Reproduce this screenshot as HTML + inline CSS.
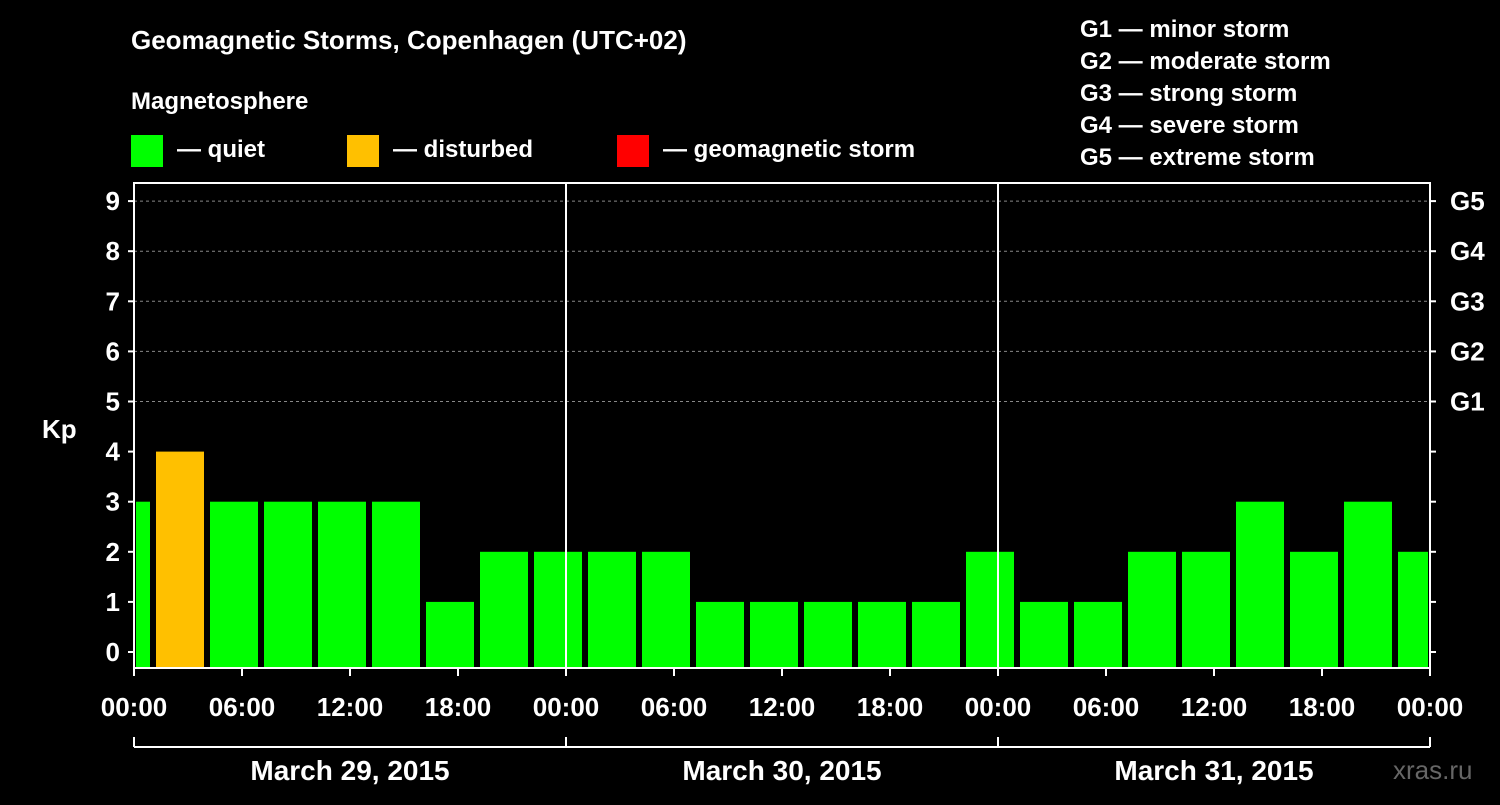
<!DOCTYPE html>
<html><head><meta charset="utf-8"><style>
body{margin:0;background:#000;width:1500px;height:800px;overflow:hidden;font-family:"Liberation Sans",Arial,sans-serif;}
</style></head><body>
<svg width="1500" height="800" xmlns="http://www.w3.org/2000/svg" font-family="Liberation Sans, Arial, sans-serif" font-weight="bold" fill="#fff">
<rect width="1500" height="800" fill="#000"/>
<text x="131" y="49" font-size="26" fill="#fff">Geomagnetic Storms, Copenhagen (UTC+02)</text>
<text x="131" y="109" font-size="24" fill="#fff">Magnetosphere</text>
<g><rect x="131" y="135" width="32" height="32" fill="#00ff00"/><text x="177" y="157" font-size="24" fill="#fff">— quiet</text></g>
<g><rect x="347" y="135" width="32" height="32" fill="#ffc000"/><text x="393" y="157" font-size="24" fill="#fff">— disturbed</text></g>
<g><rect x="617" y="135" width="32" height="32" fill="#ff0000"/><text x="663" y="157" font-size="24" fill="#fff">— geomagnetic storm</text></g>
<g font-size="24" fill="#fff">
<text x="1080" y="37">G1 — minor storm</text>
<text x="1080" y="69">G2 — moderate storm</text>
<text x="1080" y="101">G3 — strong storm</text>
<text x="1080" y="133">G4 — severe storm</text>
<text x="1080" y="165">G5 — extreme storm</text>
</g>
<text x="42" y="438" font-size="26" fill="#fff">Kp</text>
<g id="plot"></g>
<text x="1393" y="779" font-size="26" fill="#666" font-weight="normal">xras.ru</text>
</svg>
<script>
const kpValues=[3,4,3,3,3,3,1,2,2,2,2,1,1,1,1,1,2,1,1,2,2,3,2,3,2];
const yTicks=[0,1,2,3,4,5,6,7,8,9];
const gLabels=["G1","G2","G3","G4","G5"];
const xTickLabels=["00:00","06:00","12:00","18:00","00:00","06:00","12:00","18:00","00:00","06:00","12:00","18:00","00:00"];
const dayLabels=["March 29, 2015","March 30, 2015","March 31, 2015"];
const firstSlotHour=-2;
const NS="http://www.w3.org/2000/svg";
const X0=134,X1=1430,PT=183,PB=668;
const pxPerHour=(X1-X0)/72;
const xh=h=>X0+h*pxPerHour;
const yk=k=>652-k*50.1;
const g=document.getElementById('plot');
function mk(t,a){const e=document.createElementNS(NS,t);for(const k in a)e.setAttribute(k,a[k]);g.appendChild(e);return e;}
// grid
for(let k=5;k<=9;k++){const l=mk('line',{x1:X0,x2:X1,y1:yk(k),y2:yk(k),stroke:'#888','stroke-dasharray':'3,3','stroke-width':1});

}
// bars
kpValues.forEach((v,i)=>{
  const s=xh(firstSlotHour+3*i);
  let x=s+4, w=3*pxPerHour-6;
  let xa=Math.max(x,X0+2), xb=Math.min(x+w,X1-2);
  const r=mk('rect',{x:xa,y:yk(v),width:xb-xa,height:PB-yk(v),fill:v>=5?'#ff0000':(v>=4?'#ffc000':'#00ff00')});
  
  
});
// frame
const fr=mk('rect',{x:X0,y:PT,width:X1-X0,height:PB-PT,fill:'none',stroke:'#fff','stroke-width':2});


for(let d=1;d<3;d++){const l=mk('line',{x1:xh(24*d),x2:xh(24*d),y1:PT,y2:PB,stroke:'#fff','stroke-width':2});

}
// y ticks
yTicks.forEach(k=>{
  mk('line',{x1:X0-6,x2:X0,y1:yk(k),y2:yk(k),stroke:'#fff','stroke-width':2});
  mk('line',{x1:X1,x2:X1+6,y1:yk(k),y2:yk(k),stroke:'#fff','stroke-width':2});
  const t=mk('text',{x:X0-14,y:yk(k)+9,'font-size':26,'text-anchor':'end',fill:'#fff'});t.textContent=k;
  
  
});
gLabels.forEach((s,i)=>{const t=mk('text',{x:X1+20,y:yk(5+i)+9,'font-size':26,fill:'#fff'});t.textContent=s;

});
// x ticks
xTickLabels.forEach((s,i)=>{
  const x=xh(6*i);
  mk('line',{x1:x,x2:x,y1:PB,y2:PB+8,stroke:'#fff','stroke-width':2});
  const t=mk('text',{x:x,y:716,'font-size':26,'text-anchor':'middle',fill:'#fff'});t.textContent=s;
  
  
});
// date bracket
mk('line',{x1:X0,x2:X1,y1:747,y2:747,stroke:'#fff','stroke-width':2});
for(let d=0;d<=3;d++)mk('line',{x1:xh(24*d),x2:xh(24*d),y1:737,y2:747,stroke:'#fff','stroke-width':2});
dayLabels.forEach((s,i)=>{const t=mk('text',{x:xh(24*i+12),y:780,'font-size':28,'text-anchor':'middle',fill:'#fff'});t.textContent=s;

});
</script>
</body></html>
